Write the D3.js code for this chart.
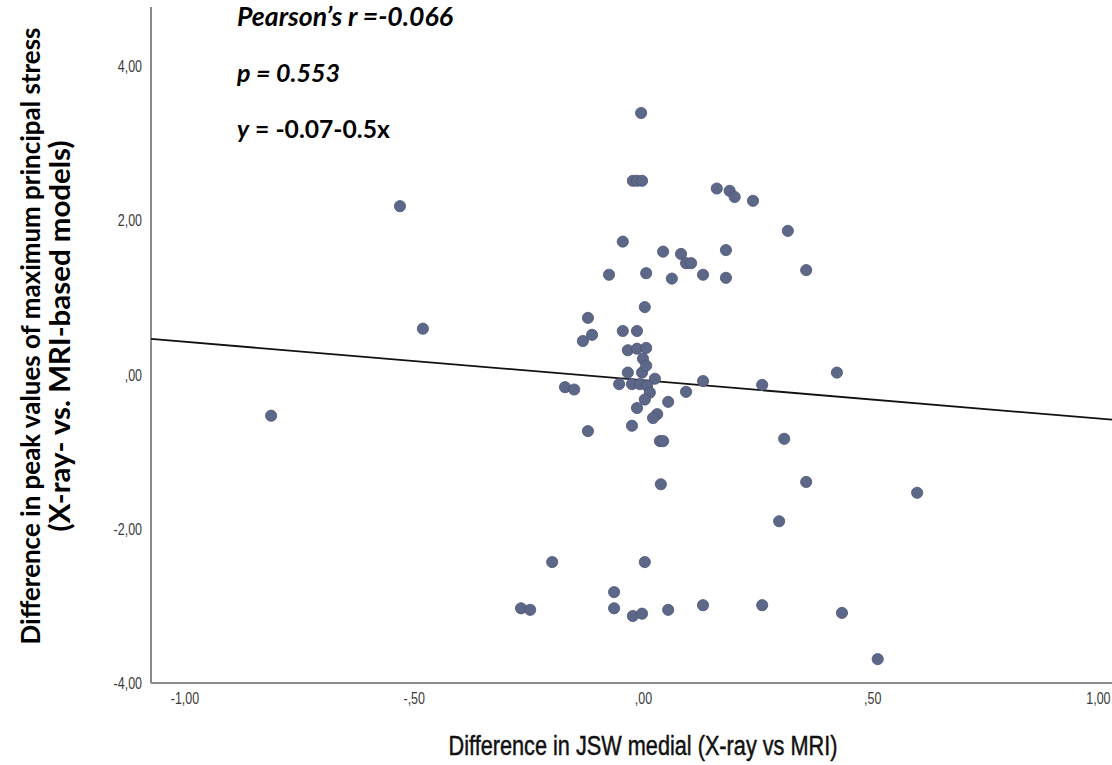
<!DOCTYPE html>
<html>
<head>
<meta charset="utf-8">
<script src="https://cdn.jsdelivr.net/npm/d3@7"></script>
<style>
  html, body { margin: 0; padding: 0; background: #fff; }
  svg { display: block; }
</style>
</head>
<body>
<svg id="chart" width="1112" height="765"></svg>
<script>
// Difference in JSW medial (X-ray vs MRI)
const jswDiff = [
  -0.811, -0.530, -0.480, -0.198, -0.266, -0.246, -0.170, -0.150, -0.131, -0.120,
  -0.111, -0.120, -0.074, -0.044, -0.063, -0.063, -0.052, -0.044, -0.013, -0.033,
  -0.013,  0.007, -0.033, -0.002,  0.000,  0.007,  0.026, -0.024, -0.007,  0.009,
   0.015,  0.004,  0.094, -0.013,  0.055,  0.031,  0.022, -0.024,  0.037,  0.044,
  -0.022, -0.013, -0.002, -0.004,  0.004,  0.007,  0.044,  0.083,  0.094,  0.105,
   0.063,  0.131,  0.181,  0.181,  0.161,  0.189,  0.200,  0.240,  0.316,  0.356,
   0.131,  0.260,  0.423,  0.308,  0.356,  0.598,  0.297,  0.039,  0.004, -0.022,
  -0.002,  0.055,  0.131,  0.260,  0.434,  0.512
];

// Difference in peak maximum principal stress (X-ray- vs. MRI-based models)
const stressDiff = [
  -0.53,  2.19,  0.60, -2.43, -3.03, -3.05, -0.16, -0.19,  0.44,  0.74,
   0.52, -0.73,  1.30,  1.73, -2.82, -3.03, -0.12,  0.57,  0.57,  0.32,
   0.34,  0.35,  0.03,  0.03,  0.21,  0.12, -0.05, -0.12, -0.12, -0.14,
  -0.23, -0.32, -0.22, -0.43, -0.35, -0.51, -0.56, -0.66, -0.86, -0.86,
   2.52,  2.52,  2.52,  3.40,  0.88,  1.32,  1.60,  1.57,  1.45,  1.45,
   1.25,  1.30,  1.62,  1.26,  2.42,  2.39,  2.31,  2.26,  1.87,  1.36,
  -0.08, -0.13,  0.03, -0.83, -1.39, -1.53, -1.90, -1.42, -2.43, -3.13,
  -3.10, -3.05, -2.99, -2.99, -3.09, -3.69
];

// Linear fit: y = intercept + slope * x
const fitIntercept = -0.07;
const fitSlope = -0.5;

const xDomain = [-1.073, 1.023];
const yDomain = [-4, 4.75];

const xTickValues = [-1, -0.5, 0, 0.5, 1];
const xTickLabels = ["-1,00", "-,50", ",00", ",50", "1,00"];
const yTickValues = [-4, -2, 0, 2, 4];
const yTickLabels = ["-4,00", "-2,00", ",00", "2,00", "4,00"];

const statLines = ["Pearson\u2019s r =-0.066", "p = 0.553", "y = -0.07-0.5x"];
const xTitle = "Difference in JSW medial (X-ray vs MRI)";
const yTitleLines = [
  "Difference in peak values of maximum principal stress",
  "(X-ray- vs. MRI-based models)"
];

const W = 1112;
const svg = d3.select("#chart");

const x = d3.scaleLinear().domain(xDomain).range([151, W]);
const y = d3.scaleLinear().domain(yDomain).range([683, 9]);

const sans = "'Liberation Sans', Arial, sans-serif";
const heavy = "Lato, 'Open Sans', 'Liberation Sans', sans-serif";
const condense = 0.78; // horizontal squeeze for the narrow axis lettering

// Grow or shrink a text element's font size so it spans the given width
function fitWidth(sel, target, sx = 1) {
  const node = sel.node();
  const fs = parseFloat(sel.attr("font-size"));
  const w = node.getComputedTextLength() * sx;
  if (w > 0) sel.attr("font-size", (fs * target / w).toFixed(2));
}

// Axes (no tick marks, only labels)
const xAxis = d3.axisBottom(x)
  .tickValues(xTickValues)
  .tickFormat((d, i) => xTickLabels[i])
  .tickSize(0)
  .tickPadding(10);

const yAxis = d3.axisLeft(y)
  .tickValues(yTickValues)
  .tickFormat((d, i) => yTickLabels[i])
  .tickSize(0)
  .tickPadding(9);

const gx = svg.append("g").attr("transform", `translate(0,${y.range()[0]})`).call(xAxis);
const gy = svg.append("g").attr("transform", `translate(${x.range()[0]},0)`).call(yAxis);

[gx, gy].forEach(g => {
  g.attr("font-size", null).attr("font-family", null);
  g.select(".domain").attr("stroke", "#8a8a8a").attr("stroke-width", 2);
  g.selectAll(".tick text")
    .style("font-family", sans)
    .style("font-size", "16px")
    .attr("fill", "#3a3a3a");
});
// squeeze tick labels horizontally, keeping their anchor point fixed
gx.selectAll(".tick text")
  .attr("x", 0)
  .attr("transform", `scale(${condense},1)`);
gy.selectAll(".tick text")
  .attr("x", -9 / condense)
  .attr("transform", `scale(${condense},1)`);

// keep the outermost x label inside the drawing area
gx.selectAll(".tick").each(function (d) {
  const t = d3.select(this).select("text");
  const half = t.node().getComputedTextLength() * condense / 2;
  const over = x(d) + half - (W - 2);
  if (over > 0) t.attr("x", -over / condense);
});

gx.select(".domain").attr("d", `M${x.range()[0]},0H${x.range()[1]}`);
gy.select(".domain").attr("d", `M0,${y.range()[1] - 2}V${y.range()[0]}`);

// Regression line across the full x range
const lineData = xDomain.map(v => [v, fitIntercept + fitSlope * v]);
svg.append("path")
  .datum(lineData)
  .attr("fill", "none")
  .attr("stroke", "#111")
  .attr("stroke-width", 1.8)
  .attr("d", d3.line().x(d => x(d[0])).y(d => y(d[1])));

// Scatter points
const pts = jswDiff.map((v, i) => ({ x: v, y: stressDiff[i] }));
svg.append("g")
  .selectAll("circle")
  .data(pts)
  .join("circle")
  .attr("cx", d => x(d.x))
  .attr("cy", d => y(d.y))
  .attr("r", 5.6)
  .attr("fill", "#5d6788")
  .attr("stroke", "#4b5477")
  .attr("stroke-width", 0.8);

// Statistics annotation
const statBase = [26, 82, 138];
const statWidths = [216, 103, 153];
statLines.forEach((t, i) => {
  const txt = svg.append("text")
    .attr("x", 237)
    .attr("y", statBase[i])
    .attr("font-family", heavy)
    .attr("font-weight", 700)
    .attr("font-size", 21)
    .attr("fill", "#000");
  if (i < 2) {
    txt.attr("font-style", "italic").text(t);
  } else {
    txt.append("tspan").attr("font-style", "italic").text(t.slice(0, 1));
    txt.append("tspan").text(t.slice(1));
  }
  fitWidth(txt, statWidths[i]);
});

// X axis title, condensed lettering
const xtG = svg.append("g").attr("transform", "translate(643,755)");
const xt = xtG.append("text")
  .attr("transform", `scale(${condense},1)`)
  .attr("text-anchor", "middle")
  .attr("font-family", sans)
  .attr("font-size", 24)
  .attr("fill", "#111")
  .attr("stroke", "#111")
  .attr("stroke-width", 0.5)
  .text(xTitle);
fitWidth(xt, 389, condense);

// Y axis title (two lines, rotated)
const yTitleX = [40, 70];
const yTitleLen = [617, 391];
yTitleLines.forEach((t, i) => {
  const yt = svg.append("text")
    .attr("transform", `translate(${yTitleX[i]},336) rotate(-90)`)
    .attr("text-anchor", "middle")
    .attr("font-family", heavy)
    .attr("font-weight", 700)
    .attr("font-size", 22)
    .attr("fill", "#000")
    .text(t);
  fitWidth(yt, yTitleLen[i]);
});
</script>
</body>
</html>
